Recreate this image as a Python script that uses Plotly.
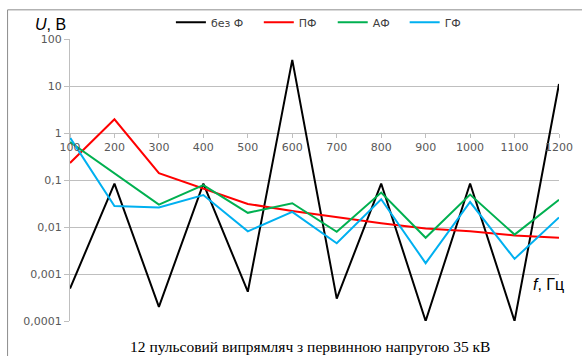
import plotly.graph_objects as go

# Frequency harmonics, Hz
freq = [100, 200, 300, 400, 500, 600, 700, 800, 900, 1000, 1100, 1200]

# Harmonic voltage amplitudes, V
u_none = [0.00049, 0.084, 0.0002, 0.084, 0.00042, 36, 0.0003, 0.084, 0.0001, 0.084, 0.0001, 11]
u_pf = [0.23, 1.96, 0.14, 0.066, 0.031, 0.022, 0.016, 0.012, 0.0093, 0.0081, 0.0066, 0.0059]
u_af = [0.64, 0.14, 0.030, 0.078, 0.020, 0.032, 0.0079, 0.054, 0.0059, 0.049, 0.0069, 0.038]
u_gf = [0.80, 0.028, 0.026, 0.048, 0.0081, 0.021, 0.0045, 0.039, 0.0017, 0.034, 0.0021, 0.016]

series_names = ["без Ф", "ПФ", "АФ", "ГФ"]
series_colors = ["#000000", "#FF0000", "#00B050", "#00B0F0"]

y_tickvals = [0.0001, 0.001, 0.01, 0.1, 1, 10, 100]
y_ticktext = ["0,0001", "0,001", "0,01", "0,1", "1", "10", "100"]

caption = "12 пульсовий випрямляч з первинною напругою 35 кВ"

grid = "#BFBFBF"
tick_font = dict(family="DejaVu Sans", size=11, color="#595959")

# plot area in pixels: left 70, right 559.5, top 38.7, bottom 321
W, H = 582, 356
L, R, T, B = 70, 559.5, 38.7, 321
pw, ph = R - L, B - T


def px(x):
    return (x - L) / pw


def py(y):
    return (B - y) / ph


# one legend box per series so each entry sits at its own place in the top row
legend_ids = ["legend", "legend2", "legend3", "legend4"]
legend_left = [171, 259, 333, 405]

fig = go.Figure()
for name, vals, col, lid in zip(series_names, [u_none, u_pf, u_af, u_gf], series_colors, legend_ids):
    fig.add_trace(go.Scatter(x=freq, y=vals, mode="lines", name=name, legend=lid,
                             line=dict(color=col, width=2)))

legend_style = {}
for lid, left in zip(legend_ids, legend_left):
    legend_style[lid] = dict(orientation="h", x=px(left), xanchor="left",
                             y=py(22), yanchor="middle",
                             font=dict(family="DejaVu Sans", size=11, color="#404040"),
                             bgcolor="rgba(0,0,0,0)", itemwidth=30)

fig.update_layout(
    width=W, height=H,
    margin=dict(l=L, r=W - R, t=T, b=H - B, autoexpand=False),
    paper_bgcolor="white", plot_bgcolor="white",
    showlegend=True,
    **legend_style,
    xaxis=dict(range=[100, 1200], tickvals=freq, anchor="free", position=4 / 6,
               showgrid=False, zeroline=False, showline=False,
               ticks="outside", ticklen=4, tickcolor=grid, tickfont=tick_font),
    yaxis=dict(type="log", range=[-4, 2], tickvals=y_tickvals, ticktext=y_ticktext,
               showgrid=True, gridcolor=grid, gridwidth=1, zeroline=False,
               showline=True, linecolor=grid, linewidth=1,
               ticks="outside", ticklen=5, tickcolor=grid, tickfont=tick_font),
    shapes=[dict(type="rect", xref="paper", yref="paper",
                 x0=px(7.5), x1=px(600), y0=py(400), y1=py(9.5),
                 line=dict(color="#8C8C8C", width=1), layer="below")],
    annotations=[
        dict(text="<i>U</i>, В", xref="paper", yref="paper", x=px(33), y=py(24),
             xanchor="left", yanchor="middle", showarrow=False,
             font=dict(family="Liberation Sans", size=16, color="#000000")),
        dict(text="<i>f</i>, Гц", xref="paper", yref="paper", x=px(549), y=py(284),
             xanchor="center", yanchor="middle", showarrow=False,
             font=dict(family="Liberation Sans", size=16, color="#000000")),
        dict(text=caption, xref="paper", yref="paper", x=px(310), y=py(357),
             xanchor="center", yanchor="bottom", showarrow=False,
             font=dict(family="Liberation Serif", size=15.5, color="#000000")),
    ],
)

fig.write_html("out.html")
